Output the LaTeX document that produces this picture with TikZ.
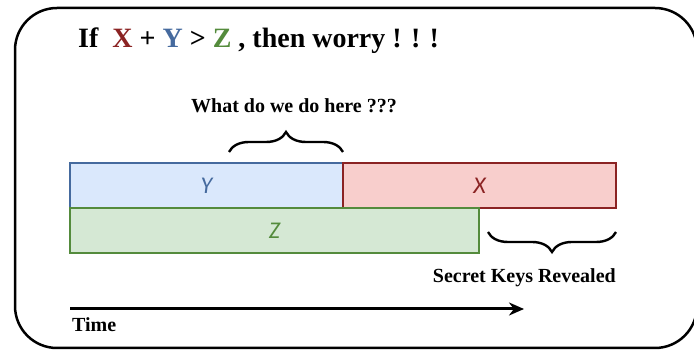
\documentclass[tikz,border=0pt]{standalone}
\usepackage{fontspec}
\setmainfont{Liberation Serif}
\newfontfamily\calfont{Carlito}
\usetikzlibrary{calc,arrows.meta,positioning,decorations.pathreplacing}
\definecolor{xrouge}{HTML}{8B2323}
\definecolor{xfond}{HTML}{F8CECC}
\definecolor{ybleu}{HTML}{456A9E}
\definecolor{yfond}{HTML}{DAE8FC}
\definecolor{zvert}{HTML}{548B3C}
\definecolor{zfond}{HTML}{D5E8D4}

\begin{document}
\begin{tikzpicture}[%
    x=1pt,y=1pt,%
    barre/.style={draw, line width=2.2pt, minimum height=45pt, inner sep=0pt, outer sep=0pt,%
        anchor=north west, font=\calfont\itshape\fontsize{24}{24}\selectfont},%
    accolade/.style={decorate, decoration={brace, amplitude=20pt}, line width=2.4pt},%
    texte/.style={inner sep=0pt, font=\bfseries\fontsize{20}{20}\selectfont}%
    ]
    \useasboundingbox (0,0) rectangle (694,350);

    %
    % Définitions
    %
    \pgfmathsetmacro{\xl}{70};%
    \pgfmathsetmacro{\xm}{343};%
    \pgfmathsetmacro{\xz}{479};%
    \pgfmathsetmacro{\xr}{616};%
    \pgfmathsetmacro{\yh}{187};%
    \pgfmathsetmacro{\yt}{41};%

    % Cadre
    \draw[line width=2.5pt, rounded corners=42pt] (15,2) rectangle (697,342);

    % Titre
    \node[texte, anchor=base west, font=\bfseries\fontsize{28}{28}\selectfont] (titre) at (78,302)
        {If~ \textcolor{xrouge}{X} + \textcolor{ybleu}{Y} > \textcolor{zvert}{Z} , then worry ! ! !};

    % Barres
    \node[barre, fill=yfond, draw=ybleu, text=ybleu, minimum width=\xm-\xl] (ybar) at (\xl,\yh) {Y};
    \node[barre, fill=xfond, draw=xrouge, text=xrouge, minimum width=\xr-\xm] (xbar) at (ybar.north east) {X};
    \node[barre, fill=zfond, draw=zvert, text=zvert, minimum width=\xz-\xl] (zbar) at (ybar.south west) {Z};

    % Accolades
    \coordinate (ha) at ($(ybar.north east)+(-114,11)$);
    \coordinate (hb) at ($(ybar.north east)+(0,11)$);
    \draw[accolade] (ha) -- (hb);
    \node[texte, anchor=base] (question) at (294,237) {What do we do here ???};

    \coordinate (ba) at (\xr,118);
    \coordinate (bb) at (488,118);
    \draw[accolade] (ba) -- (bb);
    \node[texte, anchor=base east] (secret) at (\xr,67) {Secret Keys Revealed};

    % Axe du temps
    \coordinate (t0) at (\xl,\yt);
    \coordinate (t1) at (524,\yt);
    \draw[line width=3pt, -{Stealth[length=15pt, width=13pt]}] (t0) -- (t1);
    \node[texte, anchor=base west] (temps) at (72,18) {Time};

\end{tikzpicture}
\end{document}
